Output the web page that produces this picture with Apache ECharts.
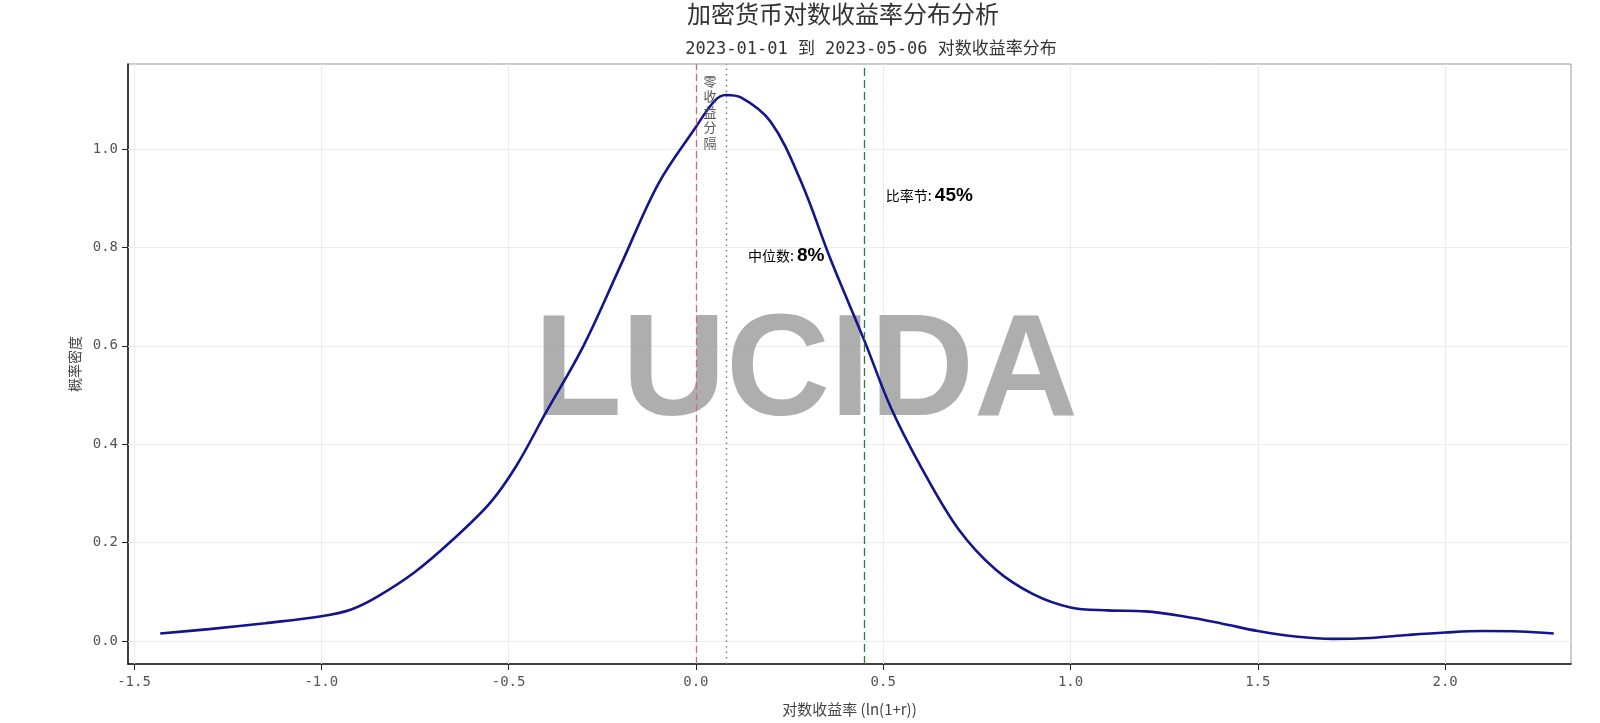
<!DOCTYPE html>
<html>
<head>
<meta charset="utf-8">
<script src="https://cdn.jsdelivr.net/npm/echarts@6/dist/echarts.min.js"></script>
<style>html,body{margin:0;padding:0;background:#fff;}#c{width:1600px;height:723px;}</style>
</head>
<body>
<div id="c"></div>
<script>
// ---- data ----
const xValues = [-1.43,-1.30,-1.15,-1.00,-0.92,-0.85,-0.75,-0.65,-0.55,-0.48,-0.40,-0.30,-0.20,-0.10,0.00,0.05,0.08,0.12,0.20,0.28,0.36,0.45,0.52,0.60,0.70,0.80,0.90,1.00,1.10,1.20,1.30,1.40,1.50,1.60,1.70,1.80,1.90,2.00,2.10,2.20,2.29];
const density = [0.015,0.024,0.036,0.050,0.064,0.090,0.140,0.205,0.280,0.355,0.465,0.600,0.765,0.930,1.045,1.098,1.110,1.105,1.055,0.935,0.775,0.610,0.475,0.355,0.228,0.145,0.095,0.068,0.062,0.060,0.050,0.036,0.020,0.009,0.004,0.006,0.012,0.017,0.020,0.019,0.015];
const xTicks = [-1.5,-1.0,-0.5,0.0,0.5,1.0,1.5,2.0];
const yTicks = [0.0,0.2,0.4,0.6,0.8,1.0];
const zeroLine = 0.0;
const medianLine = 0.08;
const ratioLine = 0.45;
const medianText = ['中位数: ', '8%'];
const ratioText = ['比率节: ', '45%'];
const zeroLabel = '零收益分隔';
const titleText = '加密货币对数收益率分布分析';
const subTitleText = '2023-01-01 到 2023-05-06 对数收益率分布';
const xName = '对数收益率 (ln(1+r))';
const yName = '概率密度';
const watermark = 'LUCIDA';

const chart = echarts.init(document.getElementById('c'));
const curve = xValues.map((x, i) => [x, density[i]]);
const tickFont = {fontFamily: 'DejaVu Sans Mono', fontSize: 14, color: '#555'};

const option = {
  backgroundColor: '#fff',
  animation: false,
  title: [
    {text: titleText, left: 838, top: -3, textAlign: 'center',
     textStyle: {fontFamily: 'Noto Sans CJK SC', fontSize: 24, fontWeight: 'normal', color: '#333'}},
    {text: subTitleText, left: 866, top: 36, textAlign: 'center',
     textStyle: {fontFamily: 'DejaVu Sans Mono, Noto Sans CJK SC', fontSize: 17, fontWeight: 'normal', color: '#333'}}
  ],
  grid: {left: 128, right: 29, top: 64, bottom: 59, show: true, borderColor: '#999', borderWidth: 1, backgroundColor: 'transparent'},
  xAxis: {
    type: 'value', min: -1.516, max: 2.336,
    name: xName, nameLocation: 'middle', nameGap: 38,
    nameTextStyle: {fontFamily: 'Noto Sans CJK SC', fontSize: 15, color: '#444'},
    axisLine: {show: true, onZero: false, lineStyle: {color: '#111', width: 1.5}},
    axisTick: {show: true, length: 6, customValues: xTicks, lineStyle: {color: '#222'}},
    axisLabel: Object.assign({customValues: xTicks, margin: 11, formatter: v => v.toFixed(1)}, tickFont),
    splitLine: {show: false}
  },
  yAxis: {
    type: 'value', min: -0.047, max: 1.173,
    name: yName, nameLocation: 'middle', nameGap: 46,
    nameTextStyle: {fontFamily: 'Noto Sans CJK SC', fontSize: 14, color: '#444'},
    axisLine: {show: true, onZero: false, lineStyle: {color: '#111', width: 1.5}},
    axisTick: {show: true, length: 6, customValues: yTicks, lineStyle: {color: '#222'}},
    axisLabel: Object.assign({customValues: yTicks, margin: 10, formatter: v => v.toFixed(1)}, tickFont),
    splitLine: {show: false}
  },
  series: [
    {
      type: 'line', data: [], silent: true, z: 1,
      markLine: {
        silent: true, symbol: 'none', animation: false, z: 1,
        label: {show: false},
        lineStyle: {color: '#ececec', width: 1, type: 'solid'},
        data: xTicks.map(v => ({xAxis: v})).concat(yTicks.map(v => ({yAxis: v})))
      }
    },
    {
      type: 'line', data: [], silent: true, z: 3,
      markLine: {
        silent: true, symbol: 'none', animation: false,
        label: {show: false},
        data: [
          {xAxis: zeroLine, lineStyle: {color: '#d06a78', width: 1.3, type: [7, 4]}},
          {xAxis: medianLine, lineStyle: {color: '#777', width: 1.4, type: [1.5, 4]}},
          {xAxis: ratioLine, lineStyle: {color: '#2f7a3a', width: 1.3, type: [8, 4]}}
        ]
      }
    },
    {
      type: 'line', data: curve, smooth: 0.35, symbol: 'none', z: 4,
      lineStyle: {color: '#14148c', width: 2.6}
    }
  ]
};
chart.setOption(option);

const P = (x, y) => chart.convertToPixel({gridIndex: 0}, [x, y]);
const pMed = P(0.139, 0.784);
const pRat = P(0.507, 0.905);
const pZero = P(0.020, 1.155);
const rich = {
  a: {fontFamily: 'Noto Sans CJK SC', fontSize: 14, color: '#444'},
  b: {fontFamily: 'Liberation Sans', fontSize: 19, fontWeight: 'bold', color: '#111'}
};
chart.setOption({
  graphic: [
    {type: 'text', z: 1, silent: true, x: 806, y: 375,
     style: {text: watermark, fontFamily: 'Liberation Sans', fontWeight: 'bold', fontSize: 144,
       fill: 'rgba(160,160,160,0.85)', align: 'center', verticalAlign: 'middle'}},
    {type: 'text', z: 10, x: pMed[0], y: pMed[1],
     style: {text: '{a|' + medianText[0] + '}{b|' + medianText[1] + '}', rich: rich, verticalAlign: 'middle', align: 'left'}},
    {type: 'text', z: 10, x: pRat[0], y: pRat[1],
     style: {text: '{a|' + ratioText[0] + '}{b|' + ratioText[1] + '}', rich: rich, verticalAlign: 'middle', align: 'left'}},
    {type: 'text', z: 10, x: pZero[0], y: pZero[1],
     style: {text: zeroLabel.split('').join('\n'), fontFamily: 'Noto Sans CJK SC', fontSize: 13, lineHeight: 15.5,
       fill: '#555', align: 'left', verticalAlign: 'top'}}
  ]
});
</script>
</body>
</html>
